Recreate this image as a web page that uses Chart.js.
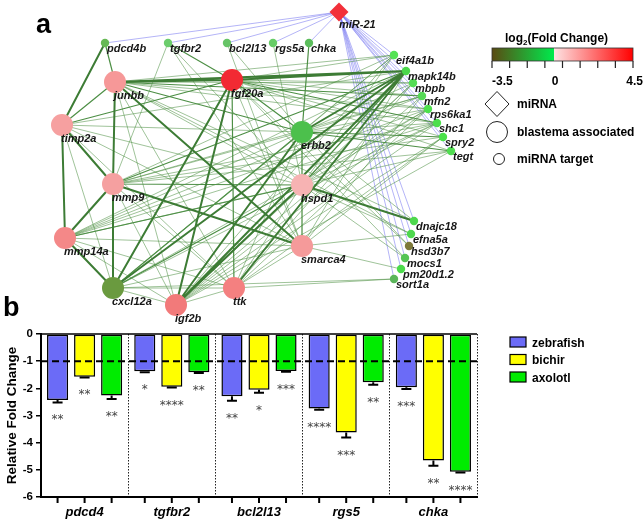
<!DOCTYPE html>
<html>
<head>
<meta charset="utf-8">
<script src="https://cdn.jsdelivr.net/npm/chart.js@4.4.0/dist/chart.umd.min.js"></script>
<style>
  body { margin: 0; background: #fff; width: 643px; height: 525px; overflow: hidden; position: relative; }
  #netChart { position: absolute; left: 0; top: 0; }
  #barChart { position: absolute; left: 0; top: 320px; }
  #overlay { position: absolute; left: 0; top: 0; pointer-events: none; font-family: "Liberation Sans", Arial, sans-serif; }
</style>
</head>
<body>
<canvas id="netChart" width="643" height="330"></canvas>
<canvas id="barChart" width="490" height="205"></canvas>

<svg id="overlay" width="643" height="525">
  <defs>
    <linearGradient id="fc" x1="0" x2="1" y1="0" y2="0">
      <stop offset="0" stop-color="#5a4a12"/>
      <stop offset="0.4375" stop-color="#00ea4c"/>
      <stop offset="0.4375" stop-color="#fde4e4"/>
      <stop offset="1" stop-color="#ff0000"/>
    </linearGradient>
  </defs>
  <text x="36" y="33" font-size="27" font-weight="bold">a</text>
  <text x="3" y="316" font-size="27" font-weight="bold">b</text>

  <!-- colour scale -->
  <text x="505" y="42" font-size="12" font-weight="bold">log<tspan font-size="8" dy="3">2</tspan><tspan dy="-3">(Fold Change)</tspan></text>
  <rect x="492" y="48" width="141" height="13" fill="url(#fc)" stroke="#333" stroke-width="0.8"/>
  <g id="cbTicks" stroke="#222" stroke-width="1.2"></g>
  <text x="492" y="85" font-size="12" font-weight="bold">-3.5</text>
  <text x="555" y="85" font-size="12" font-weight="bold" text-anchor="middle">0</text>
  <text x="643" y="85" font-size="12" font-weight="bold" text-anchor="end">4.5</text>

  <!-- node shape legend -->
  <polygon points="497,91.5 509,104 497,116.5 485,104" fill="#fff" stroke="#222" stroke-width="1"/>
  <text x="517" y="108" font-size="12" font-weight="bold">miRNA</text>
  <circle cx="497" cy="132" r="10.5" fill="#fff" stroke="#222" stroke-width="1"/>
  <text x="517" y="136" font-size="12" font-weight="bold">blastema associated</text>
  <circle cx="499" cy="159" r="5.5" fill="#fff" stroke="#222" stroke-width="1"/>
  <text x="517" y="163" font-size="12" font-weight="bold">miRNA target</text>

  <!-- bar legend -->
  <g id="barLegend" font-size="12" font-weight="bold"></g>
</svg>

<script>
// ---------- panel a : network ----------
const nodeNames = ['miR-21',
  'pdcd4b', 'tgfbr2', 'bcl2l13', 'rgs5a', 'chka',
  'eif4a1b', 'mapk14b', 'mbpb', 'mfn2', 'rps6ka1', 'shc1', 'spry2', 'tegt',
  'dnajc18', 'efna5a', 'hsd3b7', 'mocs1', 'pm20d1.2', 'sort1a',
  'junbb', 'fgf20a', 'timp2a', 'erbb2', 'mmp9', 'hspd1', 'mmp14a', 'smarca4', 'cxcl12a', 'igf2b', 'ttk'];
const nodeX = [339,
  105, 168, 227, 273, 309,
  394, 406, 413, 422, 428, 437, 443, 451,
  414, 411, 409, 405, 401, 394,
  115, 232, 62, 302, 113, 302, 65, 302, 113, 176, 234];
const nodeY = [12,
  43, 43, 43, 43, 43,
  55, 71, 83, 96, 109, 123, 137, 151,
  221, 234, 246, 258, 269, 279,
  82, 80, 125, 132, 184, 185, 238, 246, 288, 305, 288];
const nodeKind = ['mirna',
  'target', 'target', 'target', 'target', 'target',
  'target', 'target', 'target', 'target', 'target', 'target', 'target', 'target',
  'target', 'target', 'target', 'target', 'target', 'target',
  'blastema', 'blastema', 'blastema', 'blastema', 'blastema', 'blastema', 'blastema', 'blastema', 'blastema', 'blastema', 'blastema'];
const nodeColor = ['#f2303a',
  '#66b955', '#6ccd6c', '#66c466', '#66cc66', '#5bbd5b',
  '#55e255', '#4cd84c', '#55dd55', '#55d855', '#4ee04e', '#4ddf4d', '#4be24b', '#50dd50',
  '#4dd84d', '#4ed84e', '#7e7a3a', '#55c455', '#4bdb4b', '#5ab55a',
  '#f69898', '#f22a33', '#f6a0a0', '#4cc04c', '#f5a0a0', '#f7b3b3', '#f48888', '#f59a9a', '#6a9a3f', '#f27a7a', '#f48080'];

const thickEdges = [
  ['pdcd4b', 'timp2a'], ['junbb', 'fgf20a'], ['junbb', 'mapk14b'], ['fgf20a', 'mapk14b'],
  ['junbb', 'mmp9'], ['mmp9', 'cxcl12a'], ['junbb', 'smarca4'], ['timp2a', 'mmp14a'],
  ['timp2a', 'mmp9'], ['mmp9', 'mmp14a'], ['mmp14a', 'cxcl12a'], ['fgf20a', 'cxcl12a'],
  ['fgf20a', 'igf2b'], ['mmp9', 'smarca4'], ['hspd1', 'igf2b'], ['erbb2', 'igf2b'],
  ['mapk14b', 'igf2b'], ['mapk14b', 'ttk'], ['hspd1', 'dnajc18'], ['erbb2', 'mapk14b'],
  ['cxcl12a', 'mapk14b']
];
const midEdges = [
  ['pdcd4b', 'junbb'], ['timp2a', 'junbb'], ['tgfbr2', 'fgf20a'], ['fgf20a', 'ttk'],
  ['fgf20a', 'erbb2'], ['junbb', 'erbb2'], ['erbb2', 'cxcl12a'], ['fgf20a', 'shc1'],
  ['junbb', 'mfn2'], ['mmp14a', 'hspd1'], ['cxcl12a', 'hspd1'], ['mmp9', 'hspd1'],
  ['timp2a', 'fgf20a'], ['erbb2', 'spry2'], ['erbb2', 'tegt'], ['hspd1', 'mapk14b'],
  ['mmp9', 'mapk14b'], ['chka', 'erbb2']
];
const thinEdges = [
  ['tgfbr2', 'mmp9'], ['tgfbr2', 'hspd1'], ['tgfbr2', 'smarca4'], ['bcl2l13', 'smarca4'],
  ['bcl2l13', 'erbb2'], ['rgs5a', 'hspd1'],
  ['junbb', 'eif4a1b'], ['junbb', 'mbpb'], ['junbb', 'rps6ka1'], ['junbb', 'shc1'],
  ['junbb', 'hspd1'], ['junbb', 'dnajc18'], ['junbb', 'efna5a'], ['junbb', 'ttk'], ['junbb', 'igf2b'],
  ['fgf20a', 'eif4a1b'], ['fgf20a', 'mbpb'], ['fgf20a', 'mfn2'], ['fgf20a', 'rps6ka1'],
  ['fgf20a', 'spry2'], ['fgf20a', 'tegt'], ['fgf20a', 'smarca4'], ['fgf20a', 'hsd3b7'], ['fgf20a', 'mocs1'],
  ['timp2a', 'erbb2'], ['timp2a', 'mapk14b'], ['timp2a', 'hspd1'], ['timp2a', 'smarca4'],
  ['timp2a', 'cxcl12a'], ['timp2a', 'ttk'],
  ['mmp9', 'eif4a1b'], ['mmp9', 'mfn2'], ['mmp9', 'shc1'], ['mmp9', 'spry2'], ['mmp9', 'tegt'],
  ['mmp9', 'erbb2'], ['mmp9', 'igf2b'], ['mmp9', 'ttk'],
  ['mmp14a', 'erbb2'], ['mmp14a', 'mapk14b'], ['mmp14a', 'rps6ka1'], ['mmp14a', 'mfn2'],
  ['mmp14a', 'shc1'], ['mmp14a', 'tegt'], ['mmp14a', 'igf2b'], ['mmp14a', 'ttk'], ['mmp14a', 'smarca4'],
  ['erbb2', 'eif4a1b'], ['erbb2', 'mbpb'], ['erbb2', 'rps6ka1'], ['erbb2', 'shc1'], ['erbb2', 'mfn2'],
  ['erbb2', 'smarca4'], ['erbb2', 'ttk'], ['erbb2', 'hsd3b7'], ['erbb2', 'dnajc18'],
  ['hspd1', 'eif4a1b'], ['hspd1', 'mbpb'], ['hspd1', 'shc1'], ['hspd1', 'rps6ka1'],
  ['hspd1', 'efna5a'], ['hspd1', 'mocs1'], ['hspd1', 'ttk'],
  ['smarca4', 'mapk14b'], ['smarca4', 'mfn2'], ['smarca4', 'spry2'], ['smarca4', 'pm20d1.2'],
  ['smarca4', 'efna5a'], ['smarca4', 'ttk'], ['smarca4', 'cxcl12a'],
  ['cxcl12a', 'eif4a1b'], ['cxcl12a', 'rps6ka1'], ['cxcl12a', 'sort1a'], ['cxcl12a', 'shc1'],
  ['cxcl12a', 'ttk'], ['cxcl12a', 'igf2b'],
  ['igf2b', 'eif4a1b'], ['igf2b', 'mbpb'], ['igf2b', 'mfn2'], ['igf2b', 'rps6ka1'],
  ['igf2b', 'shc1'], ['igf2b', 'spry2'], ['igf2b', 'tegt'], ['igf2b', 'ttk'],
  ['ttk', 'sort1a'], ['ttk', 'mbpb'], ['ttk', 'rps6ka1'], ['ttk', 'spry2']
];
// miR-21 targets every small node
const mirnaEdges = nodeNames.filter((n, i) => nodeKind[i] === 'target').map(n => ['miR-21', n]);

function edgePoints(list) {
  const pts = [];
  list.forEach(([a, b]) => {
    const i = nodeNames.indexOf(a), j = nodeNames.indexOf(b);
    pts.push({x: nodeX[i], y: nodeY[i]}, {x: nodeX[j], y: nodeY[j]}, {x: null, y: null});
  });
  return pts;
}

function edgeDataset(list, color, width, order) {
  return {
    type: 'line', data: edgePoints(list), borderColor: color, borderWidth: width,
    pointRadius: 0, spanGaps: false, fill: false, tension: 0, order: order
  };
}

const nodeLabelPlugin = {
  id: 'nodeLabels',
  afterDatasetsDraw(chart) {
    const ctx = chart.ctx;
    const meta = chart.getDatasetMeta(0);
    ctx.save();
    ctx.font = 'italic bold 11px "Liberation Sans", Arial, sans-serif';
    ctx.fillStyle = '#161616';
    ctx.textBaseline = 'middle';
    ctx.textAlign = 'left';
    meta.data.forEach((pt, i) => {
      let dx = 2, dy = 6;
      if (nodeKind[i] === 'blastema') { dx = -1; dy = 13.5; }
      if (nodeKind[i] === 'mirna') { dx = 0; dy = 13; }
      ctx.fillText(nodeNames[i], pt.x + dx, pt.y + dy);
    });
    ctx.restore();
  }
};

new Chart(document.getElementById('netChart'), {
  type: 'scatter',
  data: {
    datasets: [
      {
        data: nodeX.map((x, i) => ({x: x, y: nodeY[i]})),
        pointRadius: nodeKind.map(k => k === 'blastema' ? 11 : (k === 'mirna' ? 9.5 : 4.2)),
        pointStyle: nodeKind.map(k => k === 'mirna' ? 'rectRot' : 'circle'),
        pointBackgroundColor: nodeColor,
        pointBorderWidth: 0,
        order: 0
      },
      edgeDataset(thickEdges, '#3d7c35', 2, 1),
      edgeDataset(midEdges, '#4d8f45', 1.2, 2),
      edgeDataset(thinEdges, 'rgba(70,140,60,0.75)', 0.7, 3),
      edgeDataset(mirnaEdges, 'rgba(110,110,240,0.65)', 0.8, 4)
    ]
  },
  options: {
    responsive: false,
    animation: false,
    devicePixelRatio: 1,
    layout: { padding: 0, autoPadding: false },
    plugins: { legend: { display: false }, tooltip: { enabled: false } },
    scales: {
      x: { type: 'linear', min: 0, max: 643, display: false },
      y: { type: 'linear', min: 0, max: 330, reverse: true, display: false }
    }
  },
  plugins: [nodeLabelPlugin]
});

// ---------- panel b : bar chart ----------
const genes = ['pdcd4', 'tgfbr2', 'bcl2l13', 'rgs5', 'chka'];
const zebrafish = [-2.43, -1.37, -2.29, -2.74, -1.96];
const zebrafishErr = [0.09, 0.04, 0.17, 0.05, 0.06];
const zebrafishSig = ['**', '*', '**', '****', '***'];
const bichir = [-1.57, -1.94, -2.05, -3.63, -4.66];
const bichirErr = [0.03, 0.03, 0.11, 0.18, 0.19];
const bichirSig = ['**', '****', '*', '***', '**'];
const axolotl = [-2.26, -1.41, -1.36, -1.78, -5.07];
const axolotlErr = [0.13, 0.03, 0.03, 0.09, 0.03];
const axolotlSig = ['**', '**', '***', '**', '****'];
const yTicks = [0, -1, -2, -3, -4, -5, -6];
const cutoff = -1;

const seriesNames = ['zebrafish', 'bichir', 'axolotl'];
const seriesColors = ['#6b6bf7', '#ffff00', '#00ec00'];
const seriesErr = [zebrafishErr, bichirErr, axolotlErr];
const seriesSig = [zebrafishSig, bichirSig, axolotlSig];

const barExtras = {
  id: 'barExtras',
  afterDatasetsDraw(chart) {
    const ctx = chart.ctx, ys = chart.scales.y, area = chart.chartArea;
    ctx.save();
    // zero line along the top
    ctx.strokeStyle = '#000';
    ctx.lineWidth = 1.5;
    ctx.beginPath();
    ctx.moveTo(area.left, ys.getPixelForValue(0));
    ctx.lineTo(area.right, ys.getPixelForValue(0));
    ctx.stroke();
    // dashed cut-off line
    ctx.lineWidth = 2;
    ctx.setLineDash([7, 4]);
    ctx.beginPath();
    ctx.moveTo(area.left, ys.getPixelForValue(cutoff));
    ctx.lineTo(area.right, ys.getPixelForValue(cutoff));
    ctx.stroke();
    ctx.setLineDash([]);
    chart.data.datasets.forEach((ds, i) => {
      const meta = chart.getDatasetMeta(i);
      meta.data.forEach((bar, j) => {
        const yEnd = ys.getPixelForValue(ds.data[j] - seriesErr[i][j]);
        ctx.strokeStyle = '#000';
        ctx.lineWidth = 2;
        ctx.beginPath();
        ctx.moveTo(bar.x, bar.y);
        ctx.lineTo(bar.x, yEnd);
        ctx.moveTo(bar.x - 5, yEnd);
        ctx.lineTo(bar.x + 5, yEnd);
        // x tick under each bar
        ctx.moveTo(bar.x, area.bottom);
        ctx.lineTo(bar.x, area.bottom + 6);
        ctx.stroke();
        ctx.fillStyle = '#444';
        ctx.font = '12px "DejaVu Sans", sans-serif';
        ctx.textAlign = 'center';
        ctx.textBaseline = 'alphabetic';
        ctx.fillText(seriesSig[i][j], bar.x, yEnd + 21);
      });
    });
    ctx.restore();
  }
};

new Chart(document.getElementById('barChart'), {
  type: 'bar',
  data: {
    labels: genes,
    datasets: [zebrafish, bichir, axolotl].map((vals, i) => ({
      label: seriesNames[i],
      data: vals,
      backgroundColor: seriesColors[i],
      borderColor: '#000',
      borderWidth: 1.5,
      borderSkipped: false,
      barPercentage: 0.78,
      categoryPercentage: 0.93
    }))
  },
  options: {
    responsive: false,
    animation: false,
    devicePixelRatio: 1,
    layout: { padding: { top: 14, right: 13, left: 0, bottom: 0 } },
    plugins: { legend: { display: false }, tooltip: { enabled: false } },
    scales: {
      x: {
        afterFit: s => { s.height = 28; },
        grid: {
          offset: true,
          drawTicks: false,
          lineWidth: 1,
          color: ctx => (ctx.index === 0 || ctx.index === genes.length) ? 'rgba(0,0,0,0)' : '#222'
        },
        border: { display: true, color: '#000', width: 2, dash: [1.5, 1.5] },
        ticks: {
          padding: 8,
          color: '#000',
          font: { family: '"Liberation Sans", Arial, sans-serif', size: 13, weight: 'bold', style: 'italic' }
        }
      },
      y: {
        min: -6, max: 0,
        afterFit: s => { s.width = 41; },
        afterBuildTicks: s => { s.ticks = yTicks.map(v => ({value: v})); },
        grid: { drawOnChartArea: false, drawTicks: true, tickLength: 5, color: '#000', lineWidth: 1.5 },
        border: { display: true, color: '#000', width: 2 },
        ticks: {
          padding: 3,
          color: '#000',
          font: { family: '"Liberation Sans", Arial, sans-serif', size: 11.5, weight: 'bold' }
        },
        title: {
          display: true,
          text: 'Relative Fold Change',
          color: '#000',
          padding: { top: 4, bottom: 2 },
          font: { family: '"Liberation Sans", Arial, sans-serif', size: 13.5, weight: 'bold' }
        }
      }
    }
  },
  plugins: [barExtras]
});

// bar legend + colour scale ticks in the overlay
const svgNS = 'http://www.w3.org/2000/svg';
const lg = document.getElementById('barLegend');
seriesNames.forEach((name, i) => {
  const r = document.createElementNS(svgNS, 'rect');
  r.setAttribute('x', 510); r.setAttribute('y', 337 + i * 17.5);
  r.setAttribute('width', 16); r.setAttribute('height', 10);
  r.setAttribute('fill', seriesColors[i]); r.setAttribute('stroke', '#000'); r.setAttribute('stroke-width', 1.2);
  lg.appendChild(r);
  const t = document.createElementNS(svgNS, 'text');
  t.setAttribute('x', 532); t.setAttribute('y', 346.5 + i * 17.5);
  t.textContent = name;
  lg.appendChild(t);
});
const cbTicks = document.getElementById('cbTicks');
for (let k = 0; k <= 8; k++) {
  const l = document.createElementNS(svgNS, 'line');
  const x = 492 + k * 141 / 8;
  l.setAttribute('x1', x); l.setAttribute('x2', x);
  l.setAttribute('y1', 61); l.setAttribute('y2', 68);
  cbTicks.appendChild(l);
}
</script>
</body>
</html>
